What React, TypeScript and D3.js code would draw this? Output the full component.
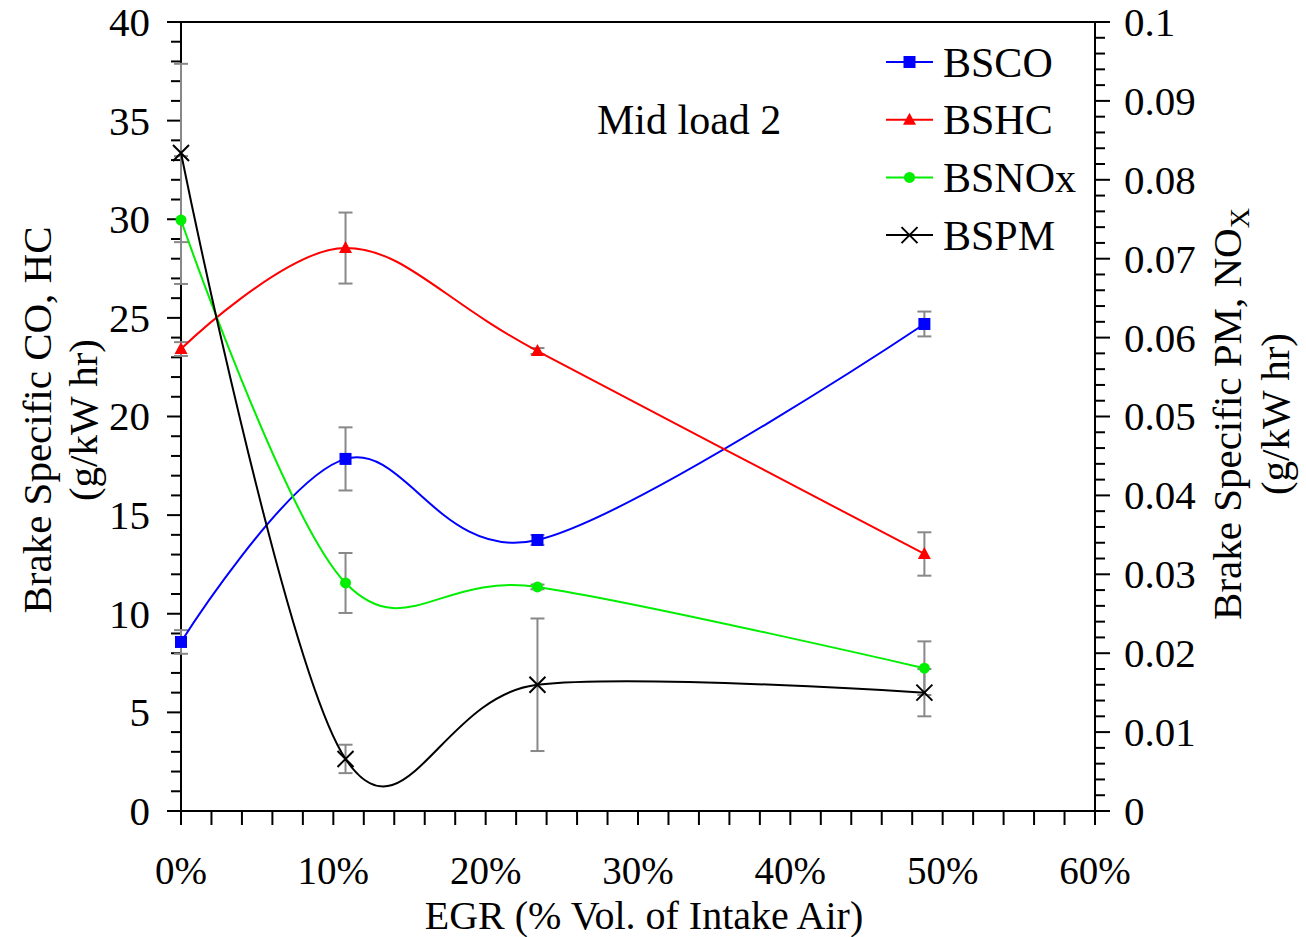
import React from "react";
import * as d3 from "d3";

const egr = [0, 10.8, 23.4, 48.8];
const bsco = [8.57, 17.85, 13.74, 24.69];
const bscoErr = [0.6, 1.6, 0.25, 0.63];
const bshc = [23.42, 28.54, 23.32, 13.03];
const bshcErr = [0.35, 1.8, 0.15, 1.1];
const bsnox = [0.0749, 0.0289, 0.0284, 0.0181];
const bsnoxErr = [0.0081, 0.0038, 0.0003, 0.0034];
const bspm = [0.0834, 0.0066, 0.016, 0.015];
const bspmErr = [0.0113, 0.0018, 0.0084, 0.003];

const xTicks = [0, 10, 20, 30, 40, 50, 60];
const leftTicks = [0, 5, 10, 15, 20, 25, 30, 35, 40];
const rightTicks = [0, 0.01, 0.02, 0.03, 0.04, 0.05, 0.06, 0.07, 0.08, 0.09, 0.1];
const legendNames = ["BSCO", "BSHC", "BSNOx", "BSPM"];

const FONT = "'Liberation Serif', 'Times New Roman', serif";

const L = 181, R = 1095, T = 22, B = 811;

export default function App() {
  const x = d3.scaleLinear().domain([0, 60]).range([L, R]);
  const yL = d3.scaleLinear().domain([0, 40]).range([B, T]);
  const yR = d3.scaleLinear().domain([0, 0.1]).range([B, T]);

  const series = [
    { name: "BSCO", vals: bsco, err: bscoErr, y: yL, color: "#0000ff", marker: "square" },
    { name: "BSHC", vals: bshc, err: bshcErr, y: yL, color: "#ff0000", marker: "triangle" },
    { name: "BSNOx", vals: bsnox, err: bsnoxErr, y: yR, color: "#00ee00", marker: "circle" },
    { name: "BSPM", vals: bspm, err: bspmErr, y: yR, color: "#000000", marker: "x" },
  ];

  const marker = (type: string, cx: number, cy: number, color: string, key: string) => {
    if (type === "square") return <rect key={key} x={cx - 6} y={cy - 6} width={12} height={12} fill={color} />;
    if (type === "triangle")
      return <path key={key} d={`M${cx},${cy - 7}L${cx + 6.5},${cy + 5}L${cx - 6.5},${cy + 5}Z`} fill={color} />;
    if (type === "circle") return <circle key={key} cx={cx} cy={cy} r={5.5} fill={color} />;
    return (
      <path key={key} d={`M${cx - 8},${cy - 8}L${cx + 8},${cy + 8}M${cx - 8},${cy + 8}L${cx + 8},${cy - 8}`} stroke={color} strokeWidth={2} fill="none" />
    );
  };

  const lineGen = (ys: d3.ScaleLinear<number, number>) =>
    d3
      .line<number>()
      .x((_, i) => x(egr[i]))
      .y((v) => ys(v))
      .curve(d3.curveCardinal.tension(0));

  const leftMinor = d3.range(0, 41, 1);
  const rightMinor = d3.range(0, 51, 1).map((i) => i * 0.002);
  const bottomMinor = d3.range(0, 61, 2);

  return (
    <div style={{ position: "absolute", left: 0, top: 0 }}>
      <svg width={1306} height={937} style={{ display: "block", background: "#fff" }} fontFamily={FONT}>
        {/* frame */}
        <line x1={L} y1={T} x2={R} y2={T} stroke="#000" strokeWidth={2} />
        <line x1={L} y1={T} x2={L} y2={B} stroke="#000" strokeWidth={2} />
        <line x1={R} y1={T} x2={R} y2={B} stroke="#000" strokeWidth={2} />
        <line x1={L} y1={B} x2={R} y2={B} stroke="#000" strokeWidth={2} />

        {/* left ticks */}
        {leftMinor.map((v) => (
          <line key={"lm" + v} x1={v % 5 === 0 ? L - 14 : L - 10} x2={L} y1={yL(v)} y2={yL(v)} stroke="#000" strokeWidth={2} />
        ))}
        {leftTicks.map((v) => (
          <text key={"lt" + v} x={150} y={yL(v)} dy="0.34em" textAnchor="end" fontSize={41}>
            {v}
          </text>
        ))}

        {/* right ticks */}
        {rightMinor.map((v, i) => (
          <line key={"rm" + i} x1={R} x2={i % 5 === 0 ? R + 15 : R + 10} y1={yR(v)} y2={yR(v)} stroke="#000" strokeWidth={2} />
        ))}
        {rightTicks.map((v) => (
          <text key={"rt" + v} x={1124} y={yR(v)} dy="0.34em" textAnchor="start" fontSize={41}>
            {v === 0 ? "0" : d3.format("~g")(v)}
          </text>
        ))}

        {/* bottom ticks */}
        {bottomMinor.map((v) => (
          <line key={"bm" + v} x1={x(v)} x2={x(v)} y1={B} y2={B + 14} stroke="#000" strokeWidth={2} />
        ))}
        {xTicks.map((v) => (
          <text key={"bt" + v} x={x(v)} y={884} textAnchor="middle" fontSize={39}>
            {v}%
          </text>
        ))}

        {/* axis titles */}
        <text x={644} y={929} textAnchor="middle" fontSize={40}>
          EGR (% Vol. of Intake Air)
        </text>
        <g transform="translate(51,420) rotate(-90)">
          <text textAnchor="middle" fontSize={41}>Brake Specific CO, HC</text>
        </g>
        <g transform="translate(97,420) rotate(-90)">
          <text textAnchor="middle" fontSize={41}>(g/kW hr)</text>
        </g>
        <g transform="translate(1241,414) rotate(-90)">
          <text textAnchor="middle" fontSize={41}>
            Brake Specific PM, NO
            <tspan fontSize={28} dy={8}>X</tspan>
          </text>
        </g>
        <g transform="translate(1289,414) rotate(-90)">
          <text textAnchor="middle" fontSize={41}>(g/kW hr)</text>
        </g>

        <text x={597} y={134} fontSize={42}>
          Mid load 2
        </text>

        {/* error bars */}
        {series.map((s) =>
          s.vals.map((v, i) => {
            const cx = x(egr[i]);
            const y1 = s.y(v + s.err[i]);
            const y2 = s.y(v - s.err[i]);
            return (
              <g key={s.name + "e" + i} stroke="#888" strokeWidth={2}>
                <line x1={cx} x2={cx} y1={y1} y2={y2} />
                <line x1={cx - 7} x2={cx + 7} y1={y1} y2={y1} />
                <line x1={cx - 7} x2={cx + 7} y1={y2} y2={y2} />
              </g>
            );
          })
        )}

        {/* lines */}
        {series.map((s) => (
          <path key={s.name + "l"} d={lineGen(s.y)(s.vals) || ""} fill="none" stroke={s.color} strokeWidth={2} />
        ))}

        {/* markers */}
        {series.map((s) => s.vals.map((v, i) => marker(s.marker, x(egr[i]), s.y(v), s.color, s.name + "m" + i)))}

        {/* legend */}
        {series.map((s, i) => {
          const ly = 62 + i * 57.7;
          return (
            <g key={"lg" + i}>
              <line x1={886} x2={933} y1={ly} y2={ly} stroke={s.color} strokeWidth={2} />
              {marker(s.marker, 909.5, ly, s.color, "lgm" + i)}
              <text x={943} y={ly} dy="0.35em" fontSize={42}>
                {legendNames[i]}
              </text>
            </g>
          );
        })}
      </svg>
    </div>
  );
}
